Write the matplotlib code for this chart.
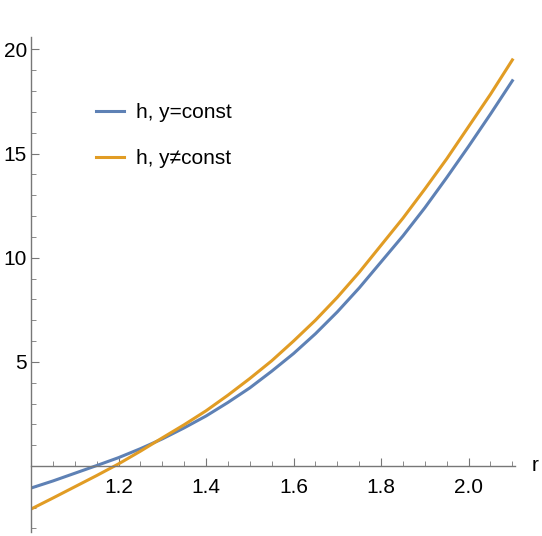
import matplotlib.pyplot as plt
from matplotlib.ticker import MultipleLocator, FixedLocator

plt.rcParams['font.family'] = ['Liberation Sans', 'DejaVu Sans']

# valori
r = [1.0, 1.05, 1.1, 1.15, 1.2, 1.25, 1.3, 1.35, 1.4, 1.45, 1.5, 1.55,
     1.6, 1.65, 1.7, 1.75, 1.8, 1.85, 1.9, 1.95, 2.0, 2.05, 2.1]
h_const = [-1.06, -0.72, -0.35, 0.02, 0.4, 0.83, 1.3, 1.83, 2.4, 3.05, 3.75, 4.55,
           5.4, 6.35, 7.4, 8.55, 9.8, 11.05, 12.4, 13.85, 15.35, 16.9, 18.5]
h_var = [-2.07, -1.54, -1.0, -0.46, 0.1, 0.71, 1.35, 1.98, 2.65, 3.4, 4.2, 5.05,
         6.0, 7.0, 8.1, 9.3, 10.6, 11.9, 13.3, 14.75, 16.3, 17.85, 19.5]
etichette = ["h, y=const", "h, y\u2260const"]

blu = "#5E81B5"
arancio = "#E19C24"

fig = plt.figure(figsize=(5.42, 5.36), dpi=100)
ax = fig.add_axes([31 / 542, 1 - 532 / 536, (515 - 31) / 542, (532 - 37) / 536])

ax.plot(r, h_const, color=blu, lw=2.2, label=etichette[0])
ax.plot(r, h_var, color=arancio, lw=2.2, label=etichette[1])

ax.set_xlim(1.0, 2.106)
ax.set_ylim(-3.17, 20.6)

# assi in stile Mathematica
ax.spines['top'].set_visible(False)
ax.spines['right'].set_visible(False)
ax.spines['bottom'].set_position(('data', 0))
for s in ['left', 'bottom']:
    ax.spines[s].set_color('#777777')
    ax.spines[s].set_linewidth(1.0)

ax.xaxis.set_major_locator(FixedLocator([1.2, 1.4, 1.6, 1.8, 2.0]))
ax.xaxis.set_minor_locator(MultipleLocator(0.05))
ax.yaxis.set_major_locator(FixedLocator([5, 10, 15, 20]))
ax.yaxis.set_minor_locator(MultipleLocator(1))
ax.set_xticklabels(["1.2", "1.4", "1.6", "1.8", "2.0"])

ax.tick_params(which='both', direction='in', color='#777777', labelsize=15)
ax.tick_params(axis='x', which='major', length=6, pad=9)
ax.tick_params(axis='y', which='major', length=6, pad=3)
ax.tick_params(which='minor', length=3.5)

ax.annotate("r", xy=(1.0, 0), xycoords=('axes fraction', 'data'),
            xytext=(12, 0), textcoords='offset points',
            fontsize=15, ha='left', va='center', annotation_clip=False)

ax.legend(loc='upper left', bbox_to_anchor=(0.1135, 0.888), frameon=False,
          fontsize=15, handlelength=1.35, handletextpad=0.55,
          labelspacing=1.3, borderpad=0)

fig.savefig("out.png", dpi=100)
